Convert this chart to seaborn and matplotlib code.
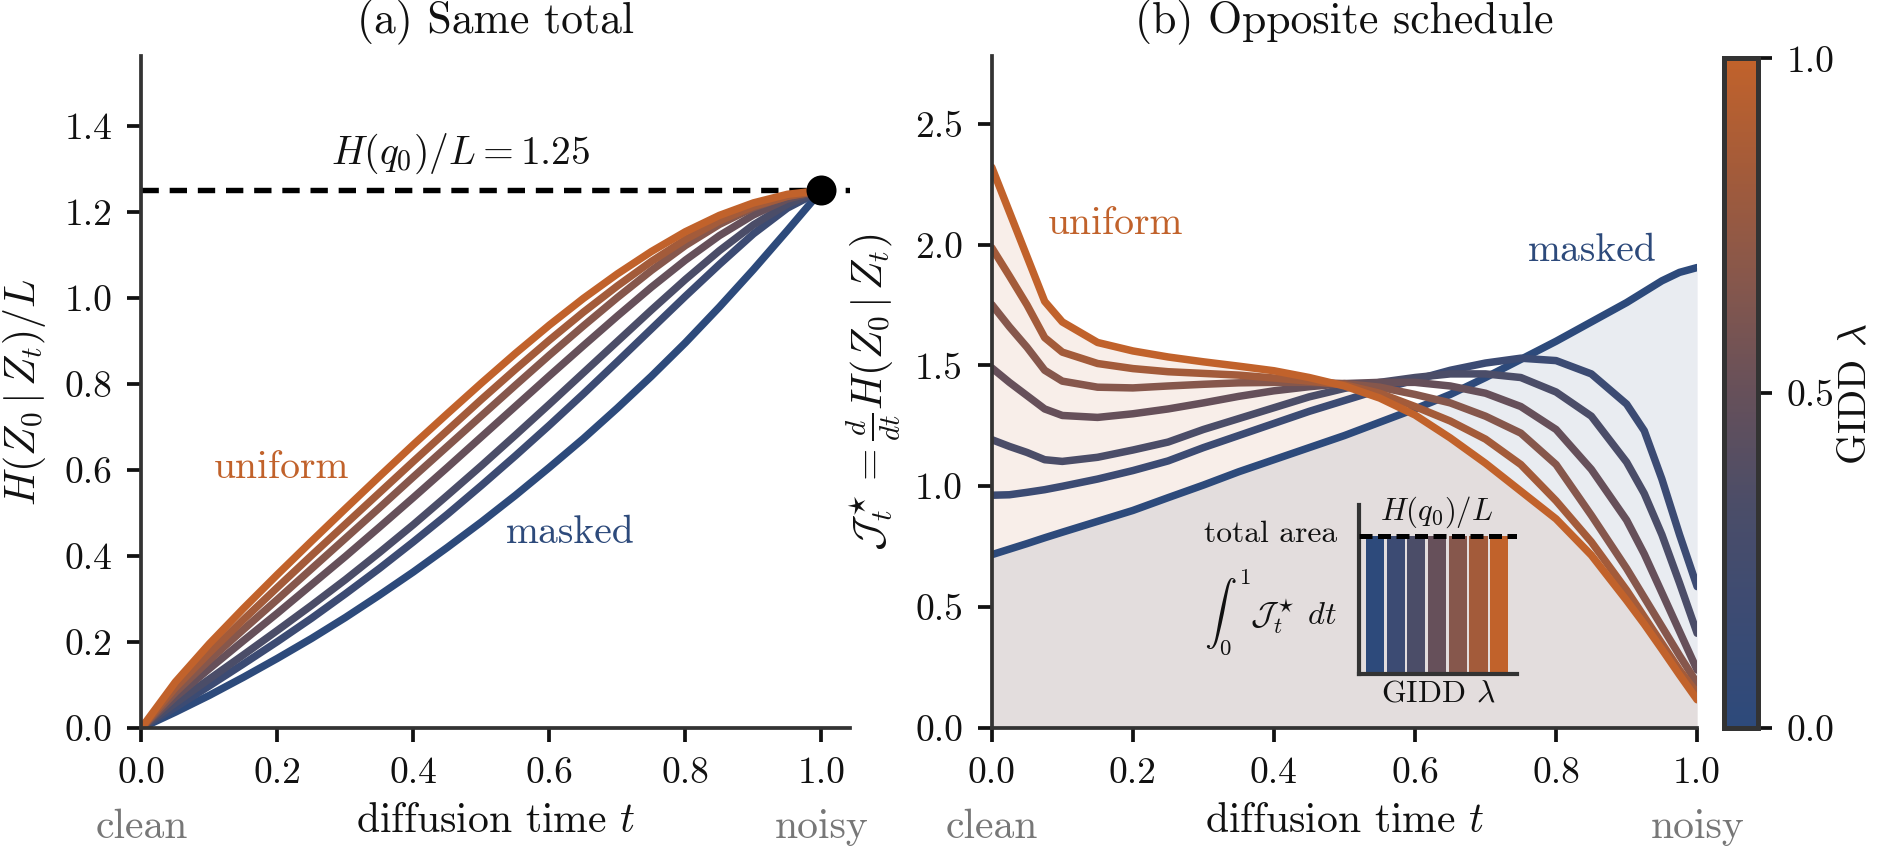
import matplotlib
matplotlib.use("Agg")
import matplotlib.pyplot as plt
import matplotlib.transforms as mtransforms
from matplotlib.colors import LinearSegmentedColormap, Normalize
from matplotlib.cm import ScalarMappable
from matplotlib.ticker import FormatStrFormatter
import seaborn as sns

# ---------------- data ----------------
lambdas = [0.0, 0.167, 0.333, 0.5, 0.667, 0.833, 1.0]
curve_colors = ["#2d4a7b", "#3c4b73", "#4b4d68", "#66505a", "#86574c", "#a35b3a", "#c1622b"]

t_left = [0.0, 0.05, 0.1, 0.15, 0.2, 0.25, 0.3, 0.35, 0.4, 0.45, 0.5,
          0.55, 0.6, 0.65, 0.7, 0.75, 0.8, 0.85, 0.9, 0.95, 1.0]
H_lam0 = [0, 0.037, 0.076, 0.118, 0.162, 0.208, 0.257, 0.309, 0.363, 0.42, 0.479,
          0.541, 0.606, 0.673, 0.744, 0.818, 0.896, 0.979, 1.066, 1.157, 1.25]
H_lam1 = [0, 0.048, 0.098, 0.149, 0.201, 0.255, 0.312, 0.371, 0.433, 0.497, 0.564,
          0.633, 0.704, 0.777, 0.852, 0.928, 1.004, 1.078, 1.149, 1.209, 1.25]
H_lam2 = [0, 0.058, 0.114, 0.17, 0.227, 0.285, 0.345, 0.408, 0.473, 0.541, 0.61,
          0.681, 0.753, 0.826, 0.899, 0.972, 1.043, 1.11, 1.17, 1.218, 1.25]
H_lam3 = [0, 0.072, 0.138, 0.203, 0.267, 0.333, 0.399, 0.467, 0.536, 0.606, 0.677,
          0.748, 0.819, 0.889, 0.958, 1.025, 1.088, 1.145, 1.193, 1.23, 1.25]
H_lam4 = [0, 0.083, 0.158, 0.229, 0.299, 0.37, 0.441, 0.512, 0.584, 0.655, 0.726,
          0.797, 0.867, 0.935, 1.001, 1.064, 1.122, 1.171, 1.21, 1.237, 1.25]
H_lam5 = [0, 0.094, 0.175, 0.252, 0.327, 0.401, 0.474, 0.547, 0.62, 0.692, 0.764,
          0.834, 0.902, 0.967, 1.028, 1.085, 1.136, 1.179, 1.213, 1.236, 1.25]
H_lam6 = [0, 0.107, 0.196, 0.278, 0.357, 0.434, 0.51, 0.585, 0.659, 0.731, 0.802,
          0.871, 0.937, 0.999, 1.056, 1.108, 1.154, 1.192, 1.221, 1.241, 1.25]

t_right = [0.0, 0.025, 0.05, 0.075, 0.1, 0.15, 0.2, 0.25, 0.3, 0.35, 0.4, 0.45, 0.5,
           0.55, 0.6, 0.65, 0.7, 0.75, 0.8, 0.85, 0.9, 0.925, 0.95, 0.975, 1.0]
J_lam0 = [0.717, 0.74, 0.763, 0.787, 0.81, 0.855, 0.90, 0.953, 1.005, 1.06, 1.11, 1.16, 1.21,
          1.265, 1.32, 1.38, 1.45, 1.525, 1.60, 1.68, 1.76, 1.805, 1.85, 1.885, 1.905]
J_lam1 = [0.963, 0.965, 0.975, 0.986, 1.0, 1.03, 1.065, 1.105, 1.16, 1.21, 1.26, 1.31, 1.355,
          1.40, 1.44, 1.48, 1.51, 1.53, 1.52, 1.465, 1.34, 1.23, 1.03, 0.80, 0.585]
J_lam2 = [1.193, 1.165, 1.14, 1.11, 1.103, 1.12, 1.15, 1.183, 1.235, 1.28, 1.325, 1.37, 1.405,
          1.43, 1.45, 1.465, 1.465, 1.45, 1.39, 1.29, 1.10, 0.97, 0.80, 0.60, 0.392]
J_lam3 = [1.49, 1.43, 1.375, 1.32, 1.293, 1.285, 1.30, 1.32, 1.345, 1.372, 1.395, 1.412, 1.425,
          1.43, 1.43, 1.415, 1.385, 1.33, 1.235, 1.07, 0.86, 0.72, 0.56, 0.40, 0.24]
J_lam4 = [1.752, 1.66, 1.575, 1.48, 1.435, 1.41, 1.407, 1.415, 1.422, 1.428, 1.43, 1.43, 1.425,
          1.41, 1.38, 1.345, 1.29, 1.22, 1.09, 0.88, 0.66, 0.54, 0.42, 0.30, 0.185]
J_lam5 = [1.987, 1.87, 1.75, 1.615, 1.555, 1.508, 1.487, 1.474, 1.467, 1.46, 1.448, 1.435, 1.42,
          1.385, 1.33, 1.27, 1.195, 1.09, 0.94, 0.77, 0.57, 0.46, 0.35, 0.24, 0.144]
J_lam6 = [2.32, 2.135, 1.95, 1.765, 1.68, 1.595, 1.56, 1.535, 1.515, 1.497, 1.478, 1.45, 1.415,
          1.365, 1.295, 1.20, 1.095, 0.98, 0.865, 0.715, 0.528, 0.43, 0.326, 0.22, 0.117]

total_entropy = 1.25
bar_totals = [1.25, 1.25, 1.25, 1.25, 1.25, 1.25, 1.25]

H_curves = [H_lam0, H_lam1, H_lam2, H_lam3, H_lam4, H_lam5, H_lam6]
J_curves = [J_lam0, J_lam1, J_lam2, J_lam3, J_lam4, J_lam5, J_lam6]

# ---------------- style ----------------
sns.set_theme(style="ticks")
plt.rcParams.update({
    "font.family": ["cmr10", "DejaVu Serif"],
    "mathtext.fontset": "cm",
    "axes.formatter.use_mathtext": True,
    "axes.unicode_minus": False,
    "axes.edgecolor": "#333333",
    "axes.linewidth": 0.9,
    "xtick.color": "#111111",
    "ytick.color": "#111111",
    "xtick.major.size": 3.4,
    "ytick.major.size": 3.4,
    "xtick.major.width": 0.9,
    "ytick.major.width": 0.9,
    "xtick.labelsize": 9,
    "ytick.labelsize": 9,
    "text.color": "#111111",
    "axes.labelcolor": "#111111",
})

cmap = LinearSegmentedColormap.from_list("gidd", list(zip(lambdas, curve_colors)))
c_mask = curve_colors[0]
c_unif = curve_colors[-1]
gray = "#777777"

fig = plt.figure(figsize=(6.26, 2.83), dpi=300)
axL = fig.add_axes([0.0753, 0.1425, 0.3773, 0.7915])
axR = fig.add_axes([0.5281, 0.1425, 0.3756, 0.7915])
cax = fig.add_axes([0.9178, 0.1425, 0.0183, 0.7886])

LW = 1.8

# ---------------- left panel ----------------
axL.axhline(total_entropy, color="black", lw=1.3, ls=(0, (3.2, 2.0)), zorder=1)
for lam, H in zip(lambdas, H_curves):
    sns.lineplot(x=t_left, y=H, ax=axL, color=cmap(lam), lw=LW,
                 solid_capstyle="round", zorder=2)
axL.plot([1.0], [total_entropy], "o", color="black", ms=6.2, zorder=5, clip_on=False)
axL.text(0.47, 1.335, r"$H(q_0)/L = 1.25$", ha="center", va="center", fontsize=9.5)
axL.text(0.2065, 0.605, "uniform", color=c_unif, ha="center", va="center", fontsize=9.5)
axL.text(0.63, 0.454, "masked", color=c_mask, ha="center", va="center", fontsize=9.5)
axL.set_xlim(0, 1.042)
axL.set_ylim(0, 1.5625)
axL.set_xticks([0, 0.2, 0.4, 0.6, 0.8, 1.0])
axL.set_yticks([0, 0.2, 0.4, 0.6, 0.8, 1.0, 1.2, 1.4])
axL.xaxis.set_major_formatter(FormatStrFormatter("%.1f"))
axL.yaxis.set_major_formatter(FormatStrFormatter("%.1f"))
axL.set_xlabel(r"diffusion time $t$", fontsize=10, labelpad=3)
axL.set_ylabel(r"$H(Z_0\,|\,Z_t)/L$", fontsize=10, labelpad=4)
axL.set_title("(a) Same total", fontsize=10.5, pad=5.5)

# ---------------- right panel ----------------
axR.fill_between(t_right, 0, J_lam6, color=c_unif, alpha=0.1, lw=0, zorder=0)
axR.fill_between(t_right, 0, J_lam0, color=c_mask, alpha=0.1, lw=0, zorder=0)
for lam, J in zip(lambdas, J_curves):
    sns.lineplot(x=t_right, y=J, ax=axR, color=cmap(lam), lw=LW,
                 solid_capstyle="round", zorder=2)
axR.text(0.175, 2.085, "uniform", color=c_unif, ha="center", va="center", fontsize=9.5)
axR.text(0.851, 1.973, "masked", color=c_mask, ha="center", va="center", fontsize=9.5)
axR.text(0.49, 0.80, "total area", ha="right", va="center", fontsize=7.6)
axR.text(0.49, 0.48, r"$\int_0^1 \mathcal{J}^\star_t\;dt$", ha="right", va="center", fontsize=7.8)
axR.set_xlim(0, 1.0)
axR.set_ylim(0, 2.78)
axR.set_xticks([0, 0.2, 0.4, 0.6, 0.8, 1.0])
axR.set_yticks([0, 0.5, 1.0, 1.5, 2.0, 2.5])
axR.xaxis.set_major_formatter(FormatStrFormatter("%.1f"))
axR.yaxis.set_major_formatter(FormatStrFormatter("%.1f"))
axR.set_xlabel(r"diffusion time $t$", fontsize=10, labelpad=3)
axR.set_ylabel(r"$\mathcal{J}^\star_t = \frac{d}{dt}H(Z_0\,|\,Z_t)$", fontsize=10, labelpad=3)
axR.set_title("(b) Opposite schedule", fontsize=10.5, pad=5.5)

for ax in (axL, axR):
    sns.despine(ax=ax)
    tr = mtransforms.blended_transform_factory(ax.transData, ax.transAxes)
    ax.text(0.0, -0.148, "clean", transform=tr, ha="center", va="center", fontsize=10, color=gray)
    ax.text(1.0, -0.148, "noisy", transform=tr, ha="center", va="center", fontsize=10, color=gray)

# ---------------- inset ----------------
axI = fig.add_axes([0.7236, 0.2058, 0.0841, 0.199])
axI.patch.set_alpha(0)
axI.bar(list(range(len(lambdas))), bar_totals, width=0.87,
        color=[cmap(l) for l in lambdas], edgecolor="none", zorder=1)
axI.axhline(total_entropy, color="black", lw=1.2, ls=(0, (2.6, 1.1)), zorder=3)
axI.set_xlim(-0.77, 6.85)
axI.set_ylim(0, 1.53)
axI.set_xticks([])
axI.set_yticks([])
for s in ("top", "right"):
    axI.spines[s].set_visible(False)
for s in ("left", "bottom"):
    axI.spines[s].set_color("#333333")
    axI.spines[s].set_linewidth(1.0)
axI.set_xlabel(r"GIDD $\lambda$", fontsize=7.6, labelpad=1.5)
axI.text(3.0, 1.47, r"$H(q_0)/L$", ha="center", va="center", fontsize=7.4)

# ---------------- colorbar ----------------
sm = ScalarMappable(norm=Normalize(0, 1), cmap=cmap)
cb = fig.colorbar(sm, cax=cax, ticks=[0, 0.5, 1.0])
cb.ax.yaxis.set_major_formatter(FormatStrFormatter("%.1f"))
cb.outline.set_edgecolor("#333333")
cb.outline.set_linewidth(1.2)
cb.ax.tick_params(length=3.4, width=0.9, labelsize=9)
cb.set_label(r"GIDD $\lambda$", fontsize=9.5, labelpad=1)

fig.savefig("out.png", dpi=300)
